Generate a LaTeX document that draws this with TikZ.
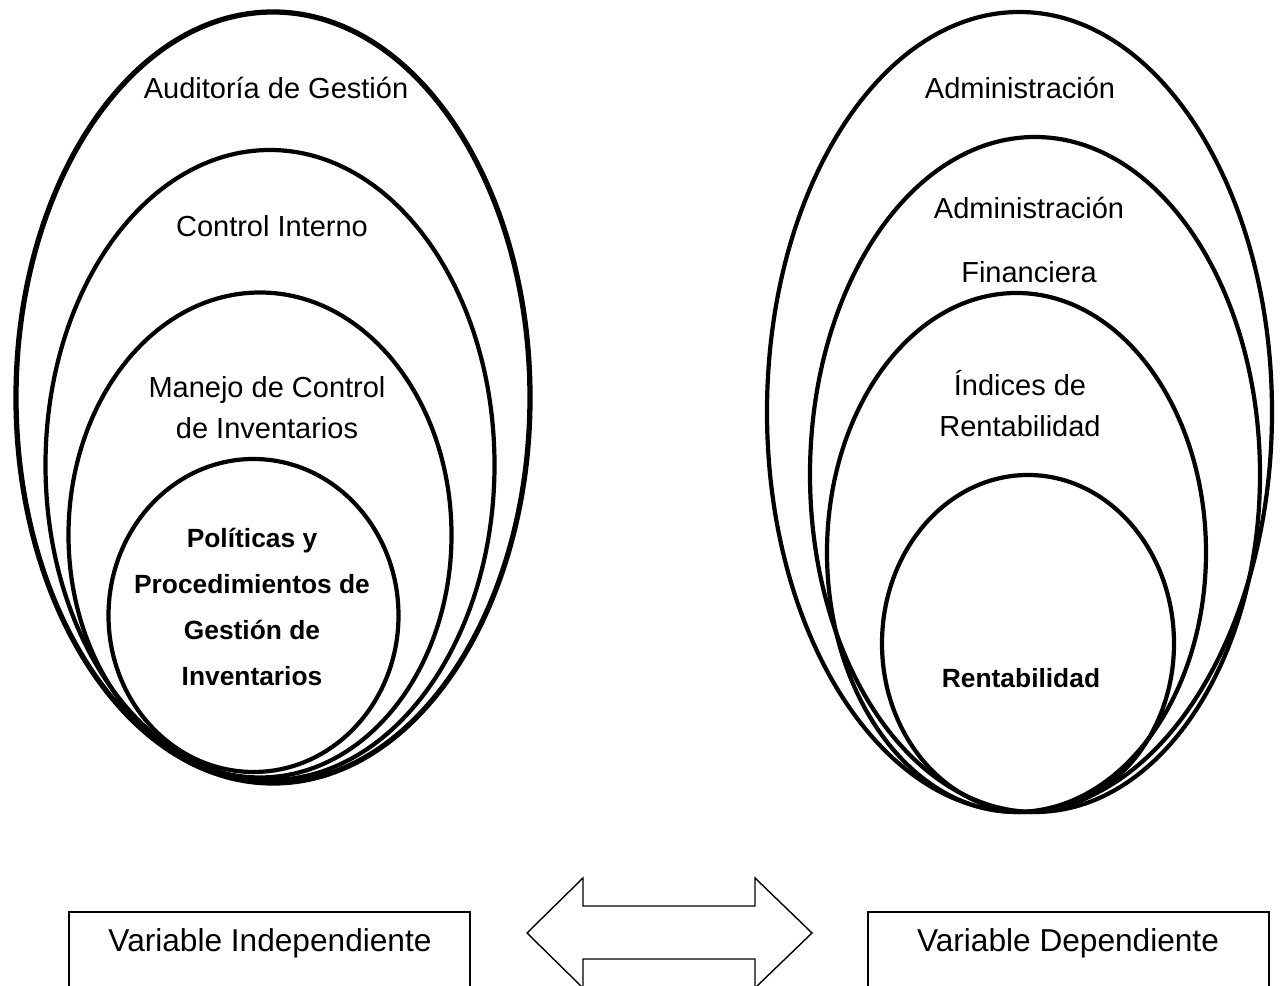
\documentclass[tikz,border=0pt]{standalone}
\usepackage{fontspec}
\setmainfont{Liberation Sans}
\usetikzlibrary{shapes.geometric}

\begin{document}
\begin{tikzpicture}[
  every node/.style={align=center},
  oval/.style={ellipse, draw=black, line width=2.4pt, inner sep=0pt},
  txt/.style={font=\fontsize{16.5}{23.3}\selectfont},
  negrita/.style={font=\fontsize{15}{26.2}\selectfont\bfseries},
  varbox/.style={rectangle, draw=black, line width=1.1pt, minimum width=8.02cm, minimum height=2cm, anchor=north},
  vartxt/.style={font=\fontsize{18}{22}\selectfont}
]
\useasboundingbox (0,0) rectangle (25.68,19.72);
\clip (0,0) rectangle (25.68,19.72);

% Variable independiente
\node[oval, line width=3pt, minimum width=10.28cm, minimum height=15.42cm] (e1) at (5.46, 11.77) {};
\node[oval, minimum width=8.98cm, minimum height=12.60cm] (e2) at (5.40, 10.42) {};
\node[oval, minimum width=7.66cm, minimum height=9.70cm] (e3) at (5.20, 9.02) {};
\node[oval, minimum width=5.80cm, minimum height=6.26cm] (e4) at (5.07, 7.41) {};

\node[txt] (t1) at (5.52, 17.96) {Auditoría de Gestión};
\node[txt] (t2) at (5.44, 15.20) {Control Interno};
\node[txt] (t3) at (5.34, 11.56) {Manejo de Control\\de Inventarios};
\node[negrita] (t4) at (5.04, 7.58) {Políticas y\\Procedimientos de\\Gestión de\\Inventarios};

% Variable dependiente
\node[oval, minimum width=10.10cm, minimum height=16.00cm] (r1) at (20.39, 11.48) {};
\node[oval, minimum width=9.00cm, minimum height=13.50cm] (r2) at (20.70, 10.23) {};
\node[oval, minimum width=7.58cm, minimum height=10.38cm] (r3) at (20.33, 8.67) {};
\node[oval, minimum width=5.84cm, minimum height=6.74cm] (r4) at (20.56, 6.85) {};

\node[txt] (s1) at (20.40, 17.96) {Administración};
\node[txt] (s2) at (20.58, 14.92) {Administración\\[0.46cm]Financiera};
\node[txt] (s3) at (20.40, 11.64) {Índices de\\Rentabilidad};
\node[negrita] (s4) at (20.42, 6.16) {Rentabilidad};

% Cajas
\node[varbox] (vi) at (5.39, 1.50) {};
\node[vartxt] (vit) at (5.40, 0.86) {Variable Independiente};
\node[varbox] (vd) at (21.37, 1.50) {};
\node[vartxt] (vdt) at (21.36, 0.86) {Variable Dependiente};

% Flecha doble
\draw[line width=0.8pt, line join=miter] (10.54,1.06) -- (11.66,2.16) -- (11.66,1.60) -- (15.10,1.60)
  -- (15.10,2.16) -- (16.24,1.06) -- (15.10,-0.04) -- (15.10,0.54) -- (11.66,0.54)
  -- (11.66,-0.04) -- cycle;
\end{tikzpicture}
\end{document}
